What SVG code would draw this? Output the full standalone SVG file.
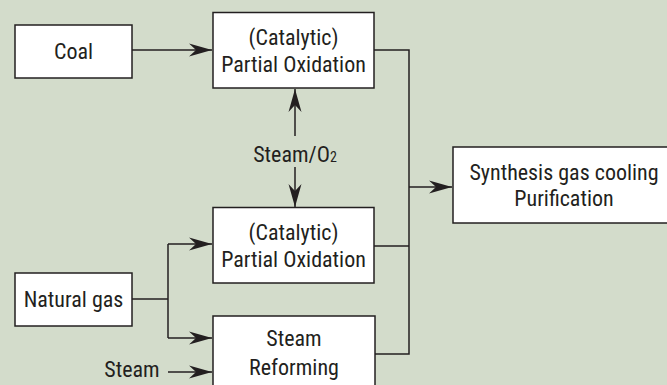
<svg xmlns="http://www.w3.org/2000/svg" width="667" height="385" viewBox="0 0 667 385">
  <defs>
    <marker id="arr" markerUnits="userSpaceOnUse" markerWidth="24" markerHeight="14" viewBox="-23 -7 24 14" refX="0" refY="0" orient="auto">
      <path d="M0,0 L-23,-6.5 L-16,0 L-23,6.5 Z" fill="#231f20"/>
    </marker>
  </defs>
  <style>
    .box { fill: #ffffff; stroke: #231f20; stroke-width: 1.5; }
    .t { font-family: "Liberation Sans Narrow", "Roboto Condensed", "Liberation Sans", sans-serif; font-size: 22px; fill: #231f20; text-anchor: middle; }
    .ln { fill: none; stroke: #231f20; stroke-width: 1.5; }
    .a { marker-end: url(#arr); }
  </style>
  <rect x="0" y="0" width="667" height="385" fill="#d3dccb"/>

  <g id="connectors">
    <line class="ln a" x1="132" y1="50" x2="212" y2="50"/>
    <polyline class="ln" points="374,50 409,50 409,354 375,354"/>
    <line class="ln" x1="374" y1="246" x2="409" y2="246"/>
    <line class="ln a" x1="409" y1="187" x2="452" y2="187"/>
    <line class="ln a" x1="295" y1="136" x2="295" y2="89"/>
    <line class="ln a" x1="295" y1="167" x2="295" y2="207"/>
    <polyline class="ln" points="132,299 168,299"/>
    <line class="ln" x1="168" y1="244" x2="168" y2="338"/>
    <line class="ln a" x1="168" y1="244" x2="212" y2="244"/>
    <line class="ln a" x1="168" y1="338" x2="212" y2="338"/>
    <line class="ln a" x1="168" y1="372" x2="212" y2="372"/>
  </g>

  <g id="coal">
    <rect class="box" x="15" y="25" width="117" height="53"/>
    <text class="t" x="73.5" y="59">Coal</text>
  </g>
  <g id="pox-top">
    <rect class="box" x="213" y="12.5" width="161" height="75.5"/>
    <text class="t" x="293.5" y="45">(Catalytic)</text>
    <text class="t" x="293.5" y="72">Partial Oxidation</text>
  </g>
  <g id="steam-o2">
    <text class="t" x="295" y="162">Steam/O<tspan font-size="14">2</tspan></text>
  </g>
  <g id="pox-bottom">
    <rect class="box" x="213" y="207.5" width="161" height="75.5"/>
    <text class="t" x="293.5" y="240">(Catalytic)</text>
    <text class="t" x="293.5" y="267">Partial Oxidation</text>
  </g>
  <g id="natural-gas">
    <rect class="box" x="15" y="273" width="117" height="53"/>
    <text class="t" x="73.5" y="307">Natural gas</text>
  </g>
  <g id="steam-reforming">
    <rect class="box" x="213" y="316" width="162" height="80"/>
    <text class="t" x="294" y="346">Steam</text>
    <text class="t" x="294" y="375">Reforming</text>
  </g>
  <g id="steam">
    <text class="t" x="132" y="377">Steam</text>
  </g>
  <g id="synthesis">
    <rect class="box" x="453" y="147" width="230" height="76"/>
    <text class="t" x="564" y="180">Synthesis gas cooling</text>
    <text class="t" x="564" y="206">Purification</text>
  </g>
</svg>
